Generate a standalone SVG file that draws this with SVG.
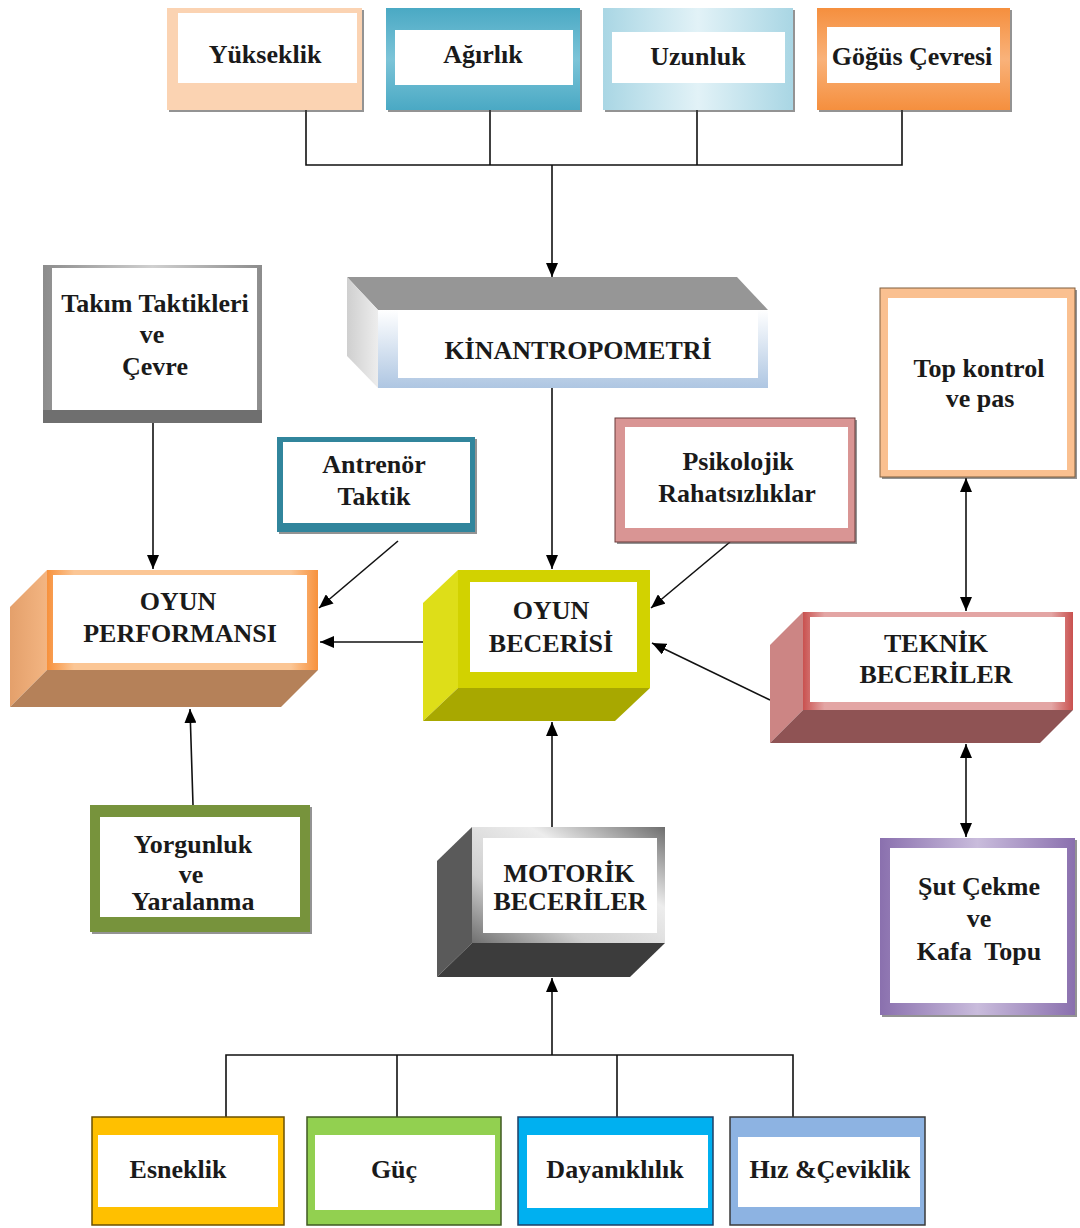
<svg xmlns="http://www.w3.org/2000/svg" width="1080" height="1228" viewBox="0 0 1080 1228">
<style>
.t{font-family:"Liberation Serif","Times New Roman",serif;font-weight:bold;font-size:26px;fill:#1a1a1a;text-anchor:middle}
.in{fill:#ffffff}
.ln{fill:none;stroke:#111;stroke-width:1.6}
.sh{fill:#3a3a3a;opacity:0.55}
</style>
<defs>
<marker id="ah" viewBox="0 0 14 12" refX="14" refY="6" markerWidth="14" markerHeight="12" markerUnits="userSpaceOnUse" orient="auto-start-reverse"><path d="M0,0 L14,6 L0,12 z" fill="#000"/></marker>
<linearGradient id="gAg" x1="0" y1="0" x2="0" y2="1"><stop offset="0" stop-color="#4aa9c4"/><stop offset="0.5" stop-color="#7cc4d8"/><stop offset="1" stop-color="#4aa9c4"/></linearGradient>
<linearGradient id="gUz" x1="0" y1="0" x2="1" y2="0"><stop offset="0" stop-color="#a9d6e4"/><stop offset="0.5" stop-color="#e2f2f7"/><stop offset="1" stop-color="#a9d6e4"/></linearGradient>
<linearGradient id="gGo" x1="0" y1="0" x2="0" y2="1"><stop offset="0" stop-color="#f58f3e"/><stop offset="0.5" stop-color="#f9b27a"/><stop offset="1" stop-color="#f58f3e"/></linearGradient>
<linearGradient id="gKinF" x1="0" y1="0" x2="0" y2="1"><stop offset="0" stop-color="#ffffff"/><stop offset="1" stop-color="#aec6e2"/></linearGradient>
<linearGradient id="gKinL" x1="0" y1="0" x2="1" y2="0"><stop offset="0" stop-color="#cfcfcf"/><stop offset="1" stop-color="#ededed"/></linearGradient>
<linearGradient id="gPerF" x1="0" y1="0" x2="1" y2="0"><stop offset="0" stop-color="#f7913c"/><stop offset="0.1" stop-color="#fbc695"/><stop offset="0.9" stop-color="#fbc695"/><stop offset="1" stop-color="#f7913c"/></linearGradient>
<linearGradient id="gPerL" x1="0" y1="0" x2="1" y2="0"><stop offset="0" stop-color="#e4a06b"/><stop offset="1" stop-color="#f3b582"/></linearGradient>
<linearGradient id="gTekF" x1="0" y1="0" x2="1" y2="0"><stop offset="0" stop-color="#c9514f"/><stop offset="0.08" stop-color="#e3a5a4"/><stop offset="0.92" stop-color="#e3a5a4"/><stop offset="1" stop-color="#c9514f"/></linearGradient>
<linearGradient id="gMotF" x1="1" y1="0" x2="0" y2="1"><stop offset="0" stop-color="#6e6e6e"/><stop offset="0.35" stop-color="#ededed"/><stop offset="0.7" stop-color="#cfcfcf"/><stop offset="1" stop-color="#707070"/></linearGradient>
<linearGradient id="gTak" x1="0" y1="0" x2="1" y2="0"><stop offset="0" stop-color="#8c8c8c"/><stop offset="0.5" stop-color="#d0d0d0"/><stop offset="1" stop-color="#8c8c8c"/></linearGradient>
<linearGradient id="gSut" x1="0" y1="0" x2="1" y2="0"><stop offset="0" stop-color="#8a70ae"/><stop offset="0.5" stop-color="#c9bcdc"/><stop offset="1" stop-color="#8a70ae"/></linearGradient>
</defs>
<rect width="1080" height="1228" fill="#ffffff"/>

<g id="connectors">
<polyline class="ln" points="306,110 306,165 902,165 902,110"/>
<line class="ln" x1="490" y1="110" x2="490" y2="165"/>
<line class="ln" x1="697" y1="110" x2="697" y2="165"/>
<line class="ln" x1="552" y1="165" x2="552" y2="277" marker-end="url(#ah)"/>
<line class="ln" x1="552" y1="388" x2="552" y2="569" marker-end="url(#ah)"/>
<line class="ln" x1="153" y1="423" x2="153" y2="569" marker-end="url(#ah)"/>
<line class="ln" x1="398" y1="541" x2="319" y2="608" marker-end="url(#ah)"/>
<line class="ln" x1="423" y1="642" x2="320" y2="642" marker-end="url(#ah)"/>
<line class="ln" x1="730" y1="542" x2="651" y2="608" marker-end="url(#ah)"/>
<line class="ln" x1="770" y1="700" x2="652" y2="643" marker-end="url(#ah)"/>
<line class="ln" x1="966" y1="478" x2="966" y2="611" marker-start="url(#ah)" marker-end="url(#ah)"/>
<line class="ln" x1="966" y1="744" x2="966" y2="837" marker-start="url(#ah)" marker-end="url(#ah)"/>
<line class="ln" x1="193" y1="805" x2="190" y2="709" marker-end="url(#ah)"/>
<line class="ln" x1="552" y1="827" x2="552" y2="722" marker-end="url(#ah)"/>
<polyline class="ln" points="226,1117 226,1055 793,1055 793,1117"/>
<line class="ln" x1="397" y1="1117" x2="397" y2="1055"/>
<line class="ln" x1="617" y1="1117" x2="617" y2="1055"/>
<line class="ln" x1="552" y1="1055" x2="552" y2="978" marker-end="url(#ah)"/>
</g>

<g id="yukseklik">
<rect class="sh" x="169" y="10" width="195" height="102"/>
<rect x="167" y="8" width="195" height="102" fill="#fbd3b2"/>
<rect class="in" x="178" y="13" width="179" height="70"/>
<text class="t" x="265" y="63">Yükseklik</text>
</g>
<g id="agirlik">
<rect class="sh" x="388" y="10" width="194" height="102"/>
<rect x="386" y="8" width="194" height="102" fill="url(#gAg)"/>
<rect class="in" x="395" y="30" width="178" height="55"/>
<text class="t" x="483" y="63">Ağırlık</text>
</g>
<g id="uzunluk">
<rect class="sh" x="605" y="10" width="190" height="102"/>
<rect x="603" y="8" width="190" height="102" fill="url(#gUz)"/>
<rect class="in" x="612" y="32" width="173" height="51"/>
<text class="t" x="698" y="65">Uzunluk</text>
</g>
<g id="gogus">
<rect class="sh" x="819" y="10" width="193" height="102"/>
<rect x="817" y="8" width="193" height="102" fill="url(#gGo)"/>
<rect class="in" x="827" y="27" width="173" height="56"/>
<text class="t" x="912" y="65">Göğüs Çevresi</text>
</g>

<g id="kinantropometri">
<polygon points="347,277 737,277 768,310 378,310" fill="#969696"/>
<polygon points="347,277 378,310 378,388 347,356" fill="url(#gKinL)"/>
<rect x="378" y="310" width="390" height="78" fill="url(#gKinF)"/>
<rect class="in" x="398" y="310" width="360" height="68"/>
<text class="t" x="578" y="359">KİNANTROPOMETRİ</text>
</g>

<g id="takim">
<rect x="43" y="265" width="219" height="158" fill="url(#gTak)"/>
<rect x="43" y="410" width="219" height="13" fill="#6f6f6f"/>
<rect class="in" x="52" y="268" width="205" height="142"/>
<text class="t" x="155" y="312">Takım Taktikleri</text>
<text class="t" x="152" y="343">ve</text>
<text class="t" x="155" y="375">Çevre</text>
</g>

<g id="antrenor">
<rect class="sh" x="279" y="439" width="198" height="95"/>
<rect x="277" y="437" width="198" height="95" fill="#31859c"/>
<rect class="in" x="283" y="442" width="187" height="81"/>
<text class="t" x="374" y="473">Antrenör</text>
<text class="t" x="374" y="505">Taktik</text>
</g>

<g id="psikolojik">
<rect class="sh" x="617" y="420" width="240" height="124"/>
<rect x="615" y="418" width="240" height="124" fill="#d99594" stroke="#6b3a3a" stroke-width="1"/>
<rect class="in" x="625" y="427" width="223" height="101"/>
<text class="t" x="738" y="470">Psikolojik</text>
<text class="t" x="737" y="502">Rahatsızlıklar</text>
</g>

<g id="topkontrol">
<rect class="sh" x="882" y="290" width="195" height="189"/>
<rect x="880" y="288" width="195" height="189" fill="#fac090" stroke="#7f5f3f" stroke-width="1"/>
<rect class="in" x="888" y="298" width="179" height="172"/>
<text class="t" x="979" y="377">Top kontrol</text>
<text class="t" x="980" y="407">ve pas</text>
</g>

<g id="oyunperformansi">
<polygon points="47,570 10,607 10,707 47,670" fill="url(#gPerL)"/>
<polygon points="47,670 318,670 281,707 10,707" fill="#b58159"/>
<rect x="47" y="570" width="271" height="100" fill="url(#gPerF)"/>
<rect class="in" x="53" y="575" width="254" height="88"/>
<text class="t" x="178" y="610">OYUN</text>
<text class="t" x="180" y="642">PERFORMANSI</text>
</g>

<g id="oyunbecerisi">
<polygon points="458,570 423,603 423,721 458,688" fill="#dede18"/>
<polygon points="458,688 650,688 615,721 423,721" fill="#a8a800"/>
<rect x="458" y="570" width="192" height="118" fill="#d2d200"/>
<rect class="in" x="470" y="582" width="167" height="90"/>
<text class="t" x="551" y="619">OYUN</text>
<text class="t" x="551" y="652">BECERİSİ</text>
</g>

<g id="teknik">
<polygon points="803,612 770,645 770,743 803,710" fill="#cc8584"/>
<polygon points="803,710 1073,710 1040,743 770,743" fill="#8f5354"/>
<rect x="803" y="612" width="270" height="98" fill="url(#gTekF)"/>
<rect class="in" x="810" y="617" width="255" height="85"/>
<text class="t" x="936" y="652">TEKNİK</text>
<text class="t" x="936" y="683">BECERİLER</text>
</g>

<g id="yorgunluk">
<rect class="sh" x="92" y="807" width="220" height="127"/>
<rect x="90" y="805" width="220" height="127" fill="#77933c"/>
<rect class="in" x="100" y="817" width="200" height="100"/>
<text class="t" x="193" y="853">Yorgunluk</text>
<text class="t" x="191" y="883">ve</text>
<text class="t" x="193" y="910">Yaralanma</text>
</g>

<g id="motorik">
<polygon points="472,827 437,861 437,977 472,943" fill="#5a5a5a"/>
<polygon points="472,943 665,943 630,977 437,977" fill="#3c3c3c"/>
<rect x="472" y="827" width="193" height="116" fill="url(#gMotF)"/>
<rect class="in" x="483" y="838" width="174" height="95"/>
<text class="t" x="569" y="882">MOTORİK</text>
<text class="t" x="570" y="910">BECERİLER</text>
</g>

<g id="sutcekme">
<rect class="sh" x="882" y="840" width="195" height="177"/>
<rect x="880" y="838" width="195" height="177" fill="url(#gSut)"/>
<rect class="in" x="890" y="848" width="177" height="155"/>
<text class="t" x="979" y="895">Şut Çekme</text>
<text class="t" x="979" y="927">ve</text>
<text class="t" x="979" y="960" xml:space="preserve">Kafa  Topu</text>
</g>

<g id="esneklik">
<rect x="92" y="1117" width="192" height="108" fill="#ffc000" stroke="#6b5000" stroke-width="1.5"/>
<rect class="in" x="98" y="1135" width="180" height="72"/>
<text class="t" x="178" y="1178">Esneklik</text>
</g>
<g id="guc">
<rect x="307" y="1117" width="194" height="108" fill="#92d050" stroke="#3f5a22" stroke-width="1.5"/>
<rect class="in" x="315" y="1135" width="180" height="75"/>
<text class="t" x="394" y="1178">Güç</text>
</g>
<g id="dayaniklilik">
<rect x="518" y="1117" width="195" height="108" fill="#00b0f0" stroke="#1c3f66" stroke-width="1.5"/>
<rect class="in" x="527" y="1135" width="181" height="73"/>
<text class="t" x="615" y="1178">Dayanıklılık</text>
</g>
<g id="hiz">
<rect x="730" y="1117" width="195" height="108" fill="#8db3e2" stroke="#3a3a3a" stroke-width="1.5"/>
<rect class="in" x="738" y="1137" width="182" height="70"/>
<text class="t" x="830" y="1178">Hız &amp;Çeviklik</text>
</g>
</svg>
